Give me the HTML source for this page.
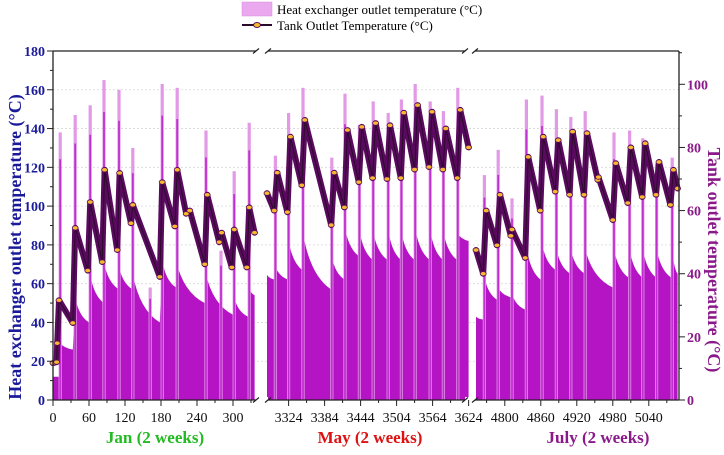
<!DOCTYPE html>
<html><head><meta charset="utf-8">
<style>
body{margin:0;background:#fff;}
svg{display:block;font-family:"Liberation Serif",serif;}
</style></head>
<body>
<svg id="chart" width="724" height="455" viewBox="0 0 724 455" xmlns="http://www.w3.org/2000/svg">
  <g id="grid"></g>
  <g id="marks"></g>
  <g id="axes"></g>
  <g>
    <rect x="242" y="2" width="30" height="14" fill="#eaa8ee" stroke="#d98ce0" stroke-width="0.5"/>
    <text x="277" y="14" font-size="13">Heat exchanger outlet temperature (°C)</text>
    <line x1="242" y1="25" x2="272" y2="25" stroke="#2a0a2a" stroke-width="2"/>
    <ellipse cx="257" cy="25" rx="3.5" ry="2.5" fill="#f5b830" stroke="#5a0a5a" stroke-width="1"/>
    <text x="277" y="30" font-size="13">Tank Outlet Temperature (°C)</text>
  </g>
  <text transform="translate(21,247) rotate(-90)" text-anchor="middle" font-size="18" font-weight="bold" fill="#1a1a9a">Heat exchanger outlet temperature (°C)</text>
  <text transform="translate(708,260) rotate(90)" text-anchor="middle" font-size="18" font-weight="bold" fill="#8a1a8a">Tank outlet temperature (°C)</text>
  <text x="155" y="443" text-anchor="middle" font-size="17" font-weight="bold" fill="#22bb22">Jan (2 weeks)</text>
  <text x="370" y="443" text-anchor="middle" font-size="17" font-weight="bold" fill="#dd1111">May (2 weeks)</text>
  <text x="598" y="443" text-anchor="middle" font-size="17" font-weight="bold" fill="#8a1a8a">July (2 weeks)</text>
</svg>
<script>
// ---- data ----
const segStarts = [0, 3288, 4752];
const segTicks = [[0,60,120,180,240,300],[3324,3384,3444,3504,3564,3624],[4800,4860,4920,4980,5040]];
const leftTicks = [0,20,40,60,80,100,120,140,160,180];
const rightTicks = [0,20,40,60,80,100];

const janSpikeHours = [12,37,62,85,110,133,162,182,207,255,280,302,327];
const janSpikeValues = [138,147,152,165,160,130,58,163,161,139,77,118,143];
const janFillHours = [0,10,10,33,37,60,62,85,85,110,110,133,133,178,182,205,205,253,255,300,302,325,327,336];
const janFillValues = [12,12,30,26,53,40,65,50,71,57,69,57,65,40,72,58,72,50,65,44,53,43,58,54];
const janTankHours = [0,6,7,10,33,37,58,62,82,86,107,111,130,133,178,182,203,207,222,228,253,257,277,281,298,302,323,327,336];
const janTankValues = [11.7,12,18,31.6,24.4,54.5,41,62.7,43.7,72.9,47.5,71.9,56,61.8,39,69,55,72.9,59,60,43,65,50,53,42,54,42,61,53];

const maySpikeHours = [14,36,60,108,130,154,177,202,224,247,272,294,318];
const maySpikeValues = [126,148,161,125,158,142,154,148,155,163,154,149,161];
const mayFillHours = [0,14,14,36,36,59,60,107,108,130,130,154,154,177,177,202,202,224,224,247,247,272,272,294,294,318,318,336];
const mayFillValues = [64.5,62,69,62,82.5,67,86,57,74,62,89,74,88,72,87,72,88,72,87,72,89,72,88,72,87,72,86,82];
const mayTankHours = [0,12,17,34,39,58,63,107,112,129,134,153,158,176,181,200,205,223,228,246,251,270,275,293,298,317,322,336];
const mayTankValues = [65.5,60,72,59.5,83.4,68,88.7,55.4,72,61,85.5,69,86.5,70.3,87.7,70,87,70.3,91,73,93.4,73.8,91.3,73,86,70.3,91.9,80];

const julSpikeHours = [14,37,60,84,110,134,158,182,230,256,278,301,327];
const julSpikeValues = [116,129,104,155,157,150,146,149,138,139,135,122,125];
const julFillHours = [0,12,14,36,37,58,60,82,84,108,110,133,134,158,158,182,182,228,230,255,256,278,278,301,301,326,327,336];
const julFillValues = [43,41.5,63.5,51.5,58,53,55,46.6,79,62,81,67,78,65,78,65,78,58,78,63,78,63,78,63,78,63,78,65];
const julTankHours = [0,12,17,35,40,58,60,82,87,107,112,132,137,156,161,180,185,203,204,228,233,253,258,277,282,300,305,324,329,336];
const julTankValues = [47.5,40,60,49,65,52,54,45,77,60,83.4,66,82.3,65,85,65,84.5,69.7,70.6,57,75,62.4,80,64.3,81.3,65,75.4,61.8,72.9,67];

// ---- scales ----
const segX0 = [53, 267, 476];
const PXH = 0.6;
function xOf(seg, h){ return segX0[seg] + PXH*h; }
function xAbs(seg, t){ return segX0[seg] + PXH*(t - segStarts[seg]); }
function yL(v){ return 400 - v*349/180; }
function yR(v){ return 400 - v*3.157; }

const NS = "http://www.w3.org/2000/svg";
function mk(tag, attrs, parent){
  const e = document.createElementNS(NS, tag);
  for (const k in attrs) e.setAttribute(k, attrs[k]);
  parent.appendChild(e); return e;
}
const grid = document.getElementById('grid');
const marks = document.getElementById('marks');
const axes = document.getElementById('axes');

leftTicks.forEach(v=>{
  if (v===0||v===180) return;
  const g = mk('line',{x1:53,x2:679,y1:yL(v),y2:yL(v),stroke:'#d8d8d8','stroke-width':0.8,'stroke-dasharray':'2,2'},grid);
  
  
});

const segs = [
  {sh:janSpikeHours,sv:janSpikeValues,fh:janFillHours,fv:janFillValues,th:janTankHours,tv:janTankValues,n:'jan'},
  {sh:maySpikeHours,sv:maySpikeValues,fh:mayFillHours,fv:mayFillValues,th:mayTankHours,tv:mayTankValues,n:'may'},
  {sh:julSpikeHours,sv:julSpikeValues,fh:julFillHours,fv:julFillValues,th:julTankHours,tv:julTankValues,n:'july'}
];

segs.forEach((s,si)=>{
  let d = 'M'+xOf(si,s.fh[0])+','+yL(0);
  for (let i=0;i<s.fh.length;i++){
    const x = xOf(si,s.fh[i]).toFixed(1), y = yL(s.fv[i]).toFixed(1);
    if (i>0 && s.fh[i]-s.fh[i-1] > 4){
      // slightly concave decay curve
      const px = xOf(si,s.fh[i-1]), py = yL(s.fv[i-1]);
      const cx = px + (xOf(si,s.fh[i])-px)*0.25, cy = py + (yL(s.fv[i])-py)*0.75;
      d += ' Q'+cx.toFixed(1)+','+cy.toFixed(1)+' '+x+','+y;
    } else d += ' L'+x+','+y;
  }
  d += ' L'+xOf(si,s.fh[s.fh.length-1])+','+yL(0)+' Z';
  const f = mk('path',{d:d,fill:'#b414c4'},marks);
  
  
  s.sh.forEach((h,i)=>{
    const x = xOf(si,h);
    const r = mk('rect',{x:x-1.6,y:yL(s.sv[i]),width:3.2,height:yL(0)-yL(s.sv[i]),fill:'#e29ae6'},marks);
    
    
    const r2 = mk('rect',{x:x-0.9,y:yL(s.sv[i]*0.9),width:1.8,height:yL(0)-yL(s.sv[i]*0.9),fill:'#c030d0'},marks);
    
    
  });
});
segs.forEach((s,si)=>{
  let pts = s.th.map((h,i)=>xOf(si,h).toFixed(1)+','+yR(s.tv[i]).toFixed(1)).join(' ');
  const pl = mk('polyline',{points:pts,fill:'none',stroke:'#5a0a5e','stroke-width':6,'stroke-linejoin':'round','stroke-linecap':'round'},marks);
  
  
  const pl2 = mk('polyline',{points:pts,fill:'none',stroke:'#2a0a2a','stroke-width':1},marks);
  
  
  s.th.forEach((h,i)=>{
    const c = mk('ellipse',{cx:xOf(si,h),cy:yR(s.tv[i]),rx:3,ry:2.2,fill:'#f5b830',stroke:'#5a0a5e','stroke-width':0.8},marks);
    
    
  });
});

const frame = [[53,51,679,51],[53,400,679,400],[53,51,53,400],[679,51,679,400]];
frame.forEach(f=>{
  const l = mk('line',{x1:f[0],y1:f[1],x2:f[2],y2:f[3],stroke:'#222','stroke-width':1.3},axes);
  
  
});
[[256,268],[465,475]].forEach(b=>{
  [51,400].forEach(y=>{
    const w = mk('rect',{x:b[0],y:y-3,width:b[1]-b[0],height:6,fill:'#fff'},axes);
    
    
    [b[0],b[1]].forEach(xx=>{
      const sl = mk('line',{x1:xx-3,y1:y+2.5,x2:xx+3,y2:y-2.5,stroke:'#222','stroke-width':1.2},axes);
      
      
    });
  });
});
for (let v=0; v<=180; v+=10){
  const major = v%20===0;
  const t = mk('line',{x1:53,x2:major?47:50,y1:yL(v),y2:yL(v),stroke:'#222','stroke-width':1},axes);
  
  
}
leftTicks.forEach(v=>{
  const t = mk('text',{x:45,y:yL(v)+5,'text-anchor':'end','font-size':14,'font-weight':'bold',fill:'#1a1a9a'},axes);
  t.textContent = v;
  
  
});
for (let v=0; v<=110; v+=10){
  const major = v%20===0;
  const t = mk('line',{x1:679,x2:major?685:682,y1:yR(v),y2:yR(v),stroke:'#222','stroke-width':1},axes);
  
  
}
rightTicks.forEach(v=>{
  const t = mk('text',{x:687,y:yR(v)+5,'font-size':14,'font-weight':'bold',fill:'#8a1a8a'},axes);
  t.textContent = v;
  
  
});
segTicks.forEach((ticks,si)=>{
  ticks.forEach(tv=>{
    const x = xAbs(si,tv);
    const t = mk('line',{x1:x,x2:x,y1:400,y2:406,stroke:'#222','stroke-width':1},axes);
    
    
    const m = mk('line',{x1:x+18,x2:x+18,y1:400,y2:403,stroke:'#222','stroke-width':1},axes);
    
    
    const l = mk('text',{x:x,y:422,'text-anchor':'middle','font-size':14,fill:'#111'},axes);
    l.textContent = tv;
    
    
  });
});
</script>
</body></html>
